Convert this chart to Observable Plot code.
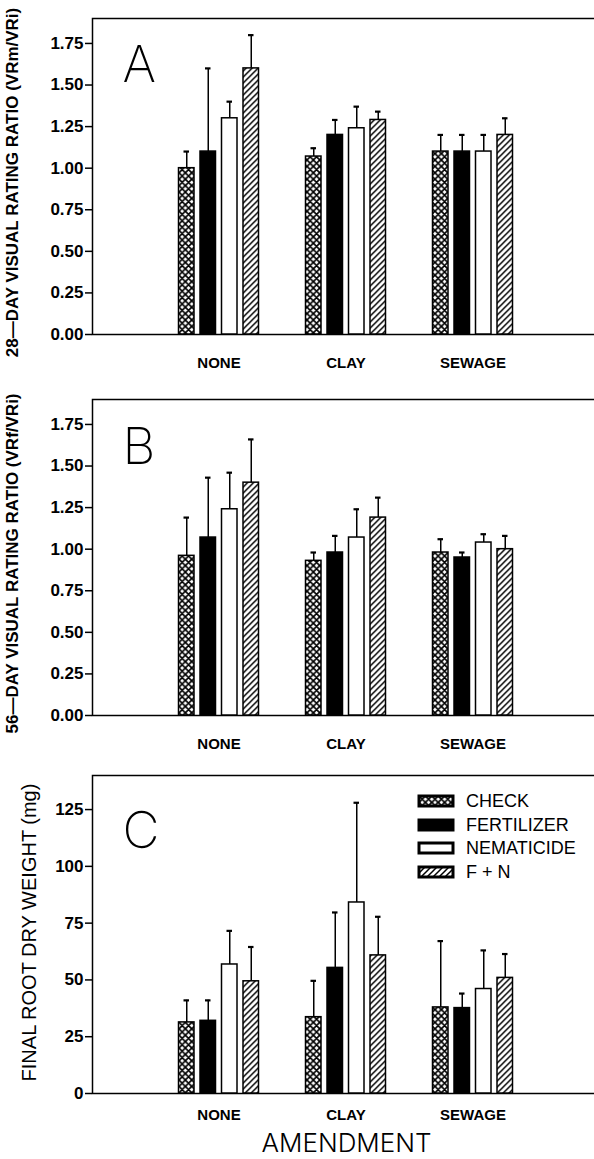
<!DOCTYPE html>
<html><head><meta charset="utf-8">
<script src="https://cdn.jsdelivr.net/npm/d3@7"></script>
<script src="https://cdn.jsdelivr.net/npm/@observablehq/plot@0.6"></script>
<style>
body{margin:0;background:#fff;width:594px;height:1159px;overflow:hidden;font-family:"Liberation Sans",Arial,sans-serif}
.panel{position:relative;width:594px}
.legend{position:absolute;left:419px;top:30px}
.legend div{font-size:18px !important;line-height:22.5px !important;color:#000 !important;font-family:"Liberation Sans",Arial,sans-serif !important}
.legend svg{margin-right:13px !important}
.legend svg rect{stroke:#000;stroke-width:3px}
</style></head><body>
<svg width="0" height="0" style="position:absolute">
<defs>
<pattern id="pat-check" patternUnits="userSpaceOnUse" width="6.4" height="6.4">
<rect width="6.4" height="6.4" fill="#fff"/>
<path d="M0,0L6.4,6.4M-3.2,3.2L3.2,9.6M3.2,-3.2L9.6,3.2M0,6.4L6.4,0M-3.2,3.2L3.2,-3.2M3.2,9.6L9.6,3.2" stroke="#000" stroke-width="1.7"/>
</pattern>
<pattern id="pat-hatch" patternUnits="userSpaceOnUse" width="6" height="6">
<rect width="6" height="6" fill="#fff"/>
<path d="M0,6L6,0M-3,3L3,-3M3,9L9,3" stroke="#000" stroke-width="1.5"/>
</pattern>
</defs>
</svg>
<div id="chart"></div>
<script>
const amendments = ["NONE", "CLAY", "SEWAGE"];
const treatments = ["CHECK", "FERTILIZER", "NEMATICIDE", "F + N"];
const treatmentFills = ["url(#pat-check)", "#000", "#fff", "url(#pat-hatch)"];

// rows: amendment (NONE, CLAY, SEWAGE); columns: treatment order above
const day28Mean = [[1.00, 1.10, 1.30, 1.60], [1.07, 1.20, 1.24, 1.29], [1.10, 1.10, 1.10, 1.20]];
const day28Err  = [[0.10, 0.50, 0.10, 0.20], [0.05, 0.09, 0.13, 0.05], [0.10, 0.10, 0.10, 0.10]];
const day56Mean = [[0.96, 1.07, 1.24, 1.40], [0.93, 0.98, 1.07, 1.19], [0.98, 0.95, 1.04, 1.00]];
const day56Err  = [[0.23, 0.36, 0.22, 0.26], [0.05, 0.10, 0.17, 0.12], [0.08, 0.03, 0.05, 0.08]];
const rootMean  = [[31.3, 32.0, 56.8, 49.4], [33.6, 55.3, 84.1, 60.8], [37.9, 37.6, 46.0, 50.9]];
const rootErr   = [[9.7, 9.0, 14.8, 15.1], [16.0, 24.4, 43.9, 17.0], [29.2, 6.4, 17.0, 10.5]];

const ratioTicks = [0, 0.25, 0.5, 0.75, 1.0, 1.25, 1.5, 1.75];
const rootTicks = [0, 25, 50, 75, 100, 125];

const FONT = '"Liberation Sans", Arial, Helvetica, sans-serif';
const THIN = 'Inter, "Open Sans", "DejaVu Sans", sans-serif';

function rowsOf(means, errs) {
  const out = [];
  amendments.forEach((a, i) => treatments.forEach((t, j) => out.push({amendment: a, treatment: t, mean: means[i][j], err: errs[i][j]})));
  return out;
}

function panel(o) {
  const rows = rowsOf(o.means, o.errs);
  const bandW = 127.5, step = 21.5, barW = 16, capW = 6;
  const marks = [];
  treatments.forEach((t, j) => {
    const dx = (j - 1.5) * step;
    const sub = rows.filter(r => r.treatment === t);
    marks.push(Plot.ruleX(sub, {x: "amendment", y1: "mean", y2: d => d.mean + d.err, dx, stroke: "#000", strokeWidth: 1.5}));
    marks.push(Plot.tickY(sub, {x: "amendment", y: d => d.mean + d.err, dx, insetLeft: (bandW - capW) / 2, insetRight: (bandW - capW) / 2, stroke: "#000", strokeWidth: 2.2}));
    marks.push(Plot.barY(sub, {x: "amendment", y: "mean", fill: "treatment", stroke: "#000", strokeWidth: 1.5, dx, insetLeft: (bandW - barW) / 2, insetRight: (bandW - barW) / 2}));
  });
  const extra = [];
  if (o.xLabel) extra.push(Plot.text([o.xLabel], {frameAnchor: "bottom", lineAnchor: "top", dy: 40.5, dx: 3, fontSize: 26, fontWeight: 300, fontFamily: THIN}));
  return Plot.plot({
    width: 594, height: o.height,
    marginLeft: 92, marginRight: 0, marginTop: o.mt, marginBottom: o.mb,
    style: {fontFamily: FONT, color: "#000", background: "#fff", overflow: "visible"},
    x: {type: "band", domain: amendments, range: [154.25, 536.75], padding: 0},
    y: {domain: [0, o.yMax]},
    color: {domain: treatments, range: treatmentFills},
    marks: [
      Plot.frame({stroke: "#000", strokeWidth: 1.5, insetRight: -8}),
      Plot.axisY({ticks: o.ticks, tickFormat: o.fmt, tickSize: 7, tickPadding: 2, fontSize: 17, fontWeight: "bold", strokeWidth: 1.5, label: null}),
      Plot.axisX({tickSize: 0, tickPadding: o.xPad, fontSize: 15, fontWeight: "bold", label: null}),
      Plot.text([o.yLabel], {frameAnchor: "left", rotate: -90, textAnchor: "middle", lineAnchor: "middle", dx: o.labelDx, dy: o.labelDy, fontSize: o.labelSize, fontWeight: o.labelWeight}),
      Plot.text([o.letter], {frameAnchor: "top-left", lineAnchor: "top", dx: 30, dy: o.letterDy, fontSize: 51, fontWeight: 200, fontFamily: THIN}),
      ...marks,
      ...extra
    ]
  });
}

const chart = document.getElementById("chart");
function addPanel(svg) {
  const div = document.createElement("div");
  div.className = "panel";
  div.appendChild(svg);
  chart.appendChild(div);
  return div;
}

addPanel(panel({means: day28Mean, errs: day28Err, yMax: 1.9, ticks: ratioTicks, fmt: d3.format(".2f"),
  yLabel: "28\u2014DAY VISUAL RATING RATIO (VRm/VRi)", labelDx: -80, labelDy: 6, labelSize: 17, labelWeight: "bold",
  letter: "A", letterDy: 27, height: 380, mt: 18, mb: 46, xPad: 23}));
addPanel(panel({means: day56Mean, errs: day56Err, yMax: 1.9, ticks: ratioTicks, fmt: d3.format(".2f"),
  yLabel: "56\u2014DAY VISUAL RATING RATIO (VRf/VRi)", labelDx: -80, labelDy: 6, labelSize: 17, labelWeight: "bold",
  letter: "B", letterDy: 28, height: 380, mt: 19, mb: 45, xPad: 23}));
const cDiv = addPanel(panel({means: rootMean, errs: rootErr, yMax: 140, ticks: rootTicks, fmt: d3.format("d"),
  yLabel: "FINAL ROOT DRY WEIGHT (mg)", labelDx: -63, labelDy: -2, labelSize: 20, labelWeight: "normal",
  letter: "C", letterDy: 36, height: 399, mt: 15, mb: 66, xPad: 16, xLabel: "AMENDMENT"}));

const legend = Plot.legend({
  color: {domain: treatments, range: treatmentFills},
  swatchWidth: 34, swatchHeight: 10, columns: 1,
  style: {fontSize: "18px", fontFamily: FONT, color: "#000"}
});
const lg = document.createElement("div");
lg.className = "legend";
lg.appendChild(legend);
cDiv.appendChild(lg);
</script>
</body></html>
